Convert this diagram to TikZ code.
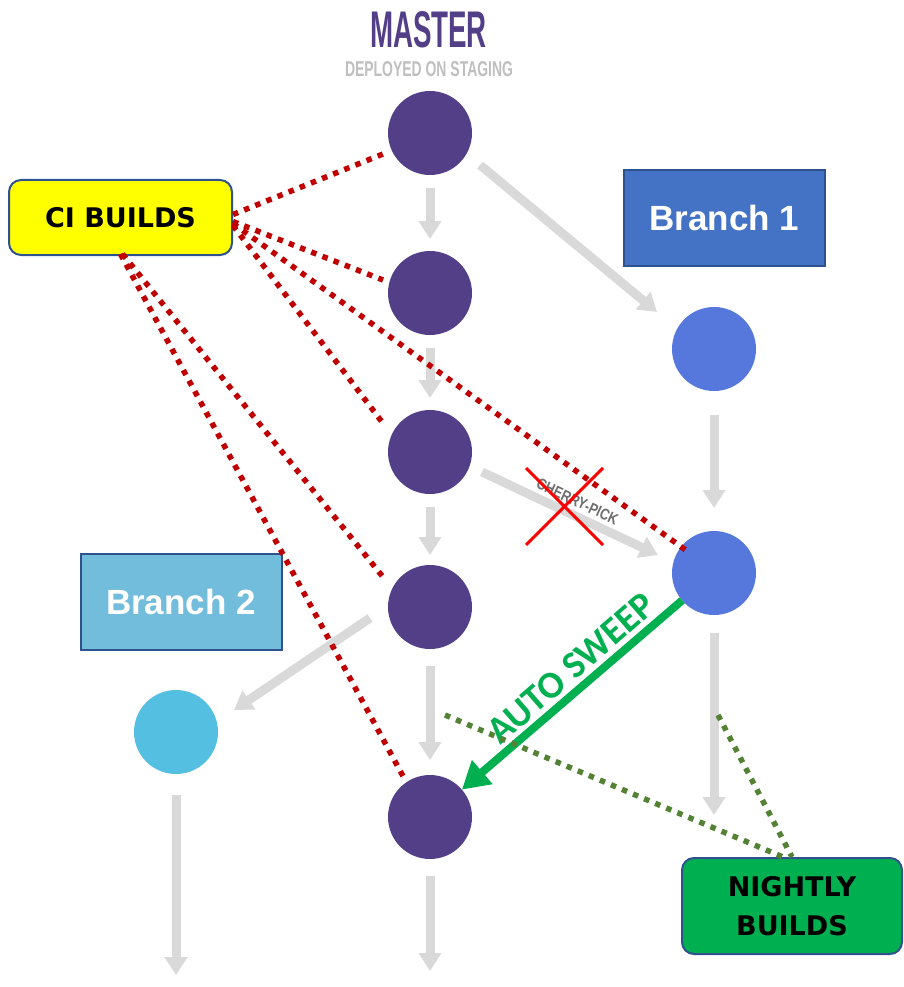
\documentclass[tikz,border=0pt]{standalone}
\usepackage{fontspec}
\usepackage{graphicx}
\usetikzlibrary{arrows.meta}
\setmainfont{Liberation Sans}
\newfontfamily\labelfont{Liberation Sans}
\newfontfamily\notefont{DejaVu Sans}
\newfontfamily\sweepfont{Carlito}

\definecolor{masterc}{HTML}{533F87}
\definecolor{branchone}{HTML}{5677DC}
\definecolor{branchtwo}{HTML}{54BFE0}
\definecolor{flow}{HTML}{D9D9D9}
\definecolor{cired}{HTML}{C00000}
\definecolor{nightgreen}{HTML}{548235}
\definecolor{sweepgreen}{HTML}{00B050}
\definecolor{boxedge}{HTML}{2F528F}
\definecolor{boxone}{HTML}{4472C4}
\definecolor{boxtwo}{HTML}{72BCDC}
\definecolor{cinote}{HTML}{FFFF00}
\definecolor{subtitle}{HTML}{BFBFBF}
\definecolor{pickgray}{HTML}{6E6E6E}

\tikzset{
  commit/.style={circle, minimum size=84pt, inner sep=0pt, outer sep=0pt},
  flowarrow/.style={draw=flow, line width=9pt, -{Triangle[width=22pt,length=18pt]}},
  cilink/.style={draw=cired, line width=5.5pt, dash pattern=on 5.5pt off 6.5pt},
  nightlink/.style={draw=nightgreen, line width=5.5pt, dash pattern=on 5.5pt off 6.5pt},
  sweeparrow/.style={draw=sweepgreen, line width=8pt, -{Triangle[width=30pt,length=27pt]}},
  branchbox/.style={draw=boxedge, line width=2pt, minimum width=201pt, minimum height=96pt,
    inner sep=0pt, text=white, font=\labelfont\bfseries\fontsize{35}{40}\selectfont},
  notebox/.style={draw=boxedge, line width=2pt, rounded corners=12pt, inner sep=0pt,
    align=center, font=\notefont\bfseries\fontsize{27}{39}\selectfont}
}

\begin{document}
\begin{tikzpicture}[x=1pt, y=-1pt]
\useasboundingbox (0,0) rectangle (904,987);

% titles
\node[text=masterc, inner sep=0pt] (title) at (428.5,30)
  {\resizebox{117pt}{36pt}{\bfseries MASTER}};
\node[text=subtitle, inner sep=0pt] (subtitleText) at (429,69.5)
  {\resizebox{168pt}{15pt}{\bfseries DEPLOYED ON STAGING}};

% commits
\node[commit, fill=masterc] (M1) at (430,133) {};
\node[commit, fill=masterc] (M2) at (430,293) {};
\node[commit, fill=masterc] (M3) at (430,452) {};
\node[commit, fill=masterc] (M4) at (430,607) {};
\node[commit, fill=masterc] (M5) at (430,817) {};
\node[commit, fill=branchone] (B1a) at (714,349) {};
\node[commit, fill=branchone] (B1b) at (714,573) {};
\node[commit, fill=branchtwo] (B2c) at (176,732) {};

% branch labels
\node[branchbox, fill=boxone] (br1) at (724.5,218) {Branch 1};
\node[branchbox, fill=boxtwo] (br2) at (181,602) {Branch 2};

% note boxes
\node[notebox, fill=cinote, minimum width=223pt, minimum height=75pt] (ci) at (120.5,217.5) {CI BUILDS};
\node[notebox, fill=sweepgreen, minimum width=220pt, minimum height=96pt] (nb) at (792,906) {NIGHTLY\\BUILDS};

% history arrows
\draw[flowarrow] ([shift={(0,55)}]M1.center) -- ([shift={(0,-54)}]M2.center);
\draw[flowarrow] ([shift={(0,55)}]M2.center) -- ([shift={(0,-54)}]M3.center);
\draw[flowarrow] ([shift={(0,55)}]M3.center) -- ([shift={(0,-52)}]M4.center);
\draw[flowarrow] ([shift={(0,59)}]M4.center) -- ([shift={(0,-57)}]M5.center);
\draw[flowarrow] ([shift={(0,66)}]B1a.center) -- ([shift={(0,-65)}]B1b.center);
\draw[flowarrow] ([shift={(50,32)}]M1.center) -- ([shift={(-57,-37)}]B1a.center);
\draw[flowarrow] ([shift={(52,20)}]M3.center) -- ([shift={(-56,-18)}]B1b.center);
\draw[flowarrow] ([shift={(-60,11)}]M4.center) -- ([shift={(58,-22)}]B2c.center);

\coordinate (M5end) at (430,971);
\coordinate (B2end) at (176,975);
\coordinate (B1end) at (714,815);
\draw[flowarrow] ([shift={(0,59)}]M5.center) -- (M5end);
\draw[flowarrow] ([shift={(0,63)}]B2c.center) -- (B2end);
\draw[flowarrow] ([shift={(0,60)}]B1b.center) -- (B1end);

% cherry-pick label
\node[text=pickgray, inner sep=0pt, rotate=-25] (pick) at (577.5,501.5)
  {\resizebox{88pt}{11pt}{\bfseries CHERRY-PICK}};

% CI build links
\draw[cilink] ([shift={(0,-3)}]ci.east) -- ([shift={(-47,21)}]M1.center);
\draw[cilink] ([shift={(0,4)}]ci.east) -- ([shift={(-47,-13)}]M2.center);
\draw[cilink] ([shift={(0,8)}]ci.east) -- ([shift={(-48,-30)}]M3.center);
\draw[cilink] ([shift={(0,6)}]ci.east) -- ([shift={(-27,-22)}]B1b.center);
\draw[cilink] ([shift={(2,-2)}]ci.south) -- ([shift={(-47,-30)}]M4.center);
\draw[cilink] ([shift={(0,-2)}]ci.south) -- ([shift={(-26,-39)}]M5.center);

% rejected cherry-pick
\draw[red, line width=3pt] (526,468) -- (603,545) (603,468) -- (526,545);

% auto sweep
\draw[sweeparrow] (B1b) -- (M5);
\node[text=sweepgreen, inner sep=0pt, rotate=41,
  font=\sweepfont\bfseries\fontsize{38}{42}\selectfont] (sweep) at (571,668) {AUTO SWEEP};

% nightly build links
\coordinate (n1) at (445,715);
\coordinate (n2) at (718,715);
\draw[nightlink] (n1) -- ([shift={(-9,0)}]nb.north);
\draw[nightlink] (n2) -- (nb.north);
\end{tikzpicture}
\end{document}
